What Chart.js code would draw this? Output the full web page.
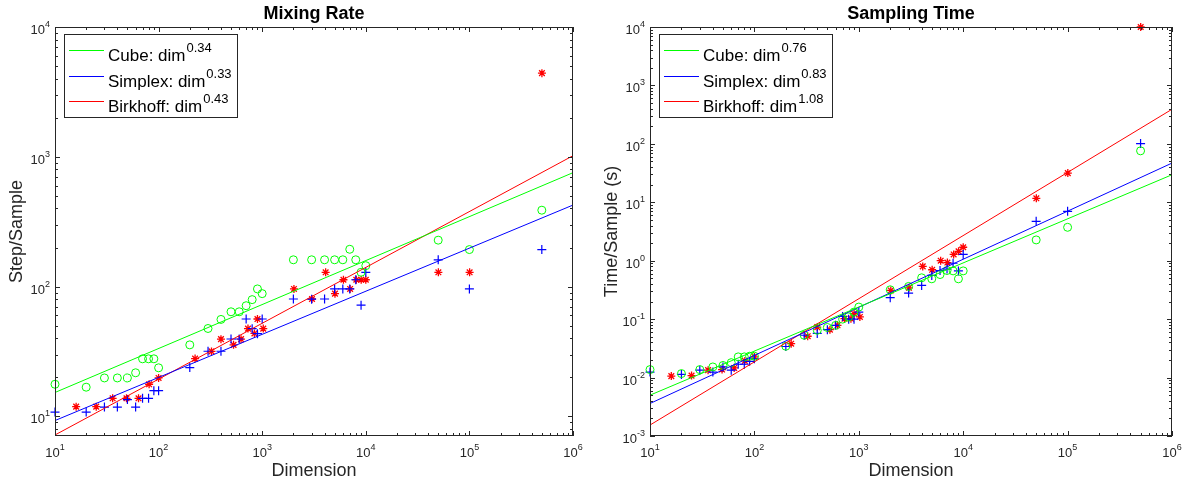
<!DOCTYPE html>
<html>
<head>
<meta charset="utf-8">
<script src="https://cdn.jsdelivr.net/npm/chart.js@4"></script>
<style>
  body { margin: 0; background: #fff; width: 1186px; height: 479px; overflow: hidden; position: relative; }
  .panel { position: absolute; top: 0; width: 593px; height: 479px; }
</style>
</head>
<body>
<div class="panel" style="left:0"><canvas id="js--chart--1"></canvas></div>
<div class="panel" style="left:593px"><canvas id="js--chart--2"></canvas></div>
<script>
// dimensions
const dims = [10, 20, 30, 40, 50, 60, 70, 80, 90, 100, 200, 300, 400, 500, 600, 700, 800, 900, 1000,
  2000, 3000, 4000, 5000, 6000, 7000, 8000, 9000, 10000, 50000, 100000, 500000];
const birkhoffDims = [16, 25, 36, 49, 64, 81, 100, 225, 324, 400, 529, 625, 729, 841, 900, 1024,
  2025, 3025, 4096, 5041, 6084, 7056, 8100, 9025, 10000, 50176, 100489, 501264];

// mixing rate (step/sample)
const mixCube = [17.7, 16.8, 19.8, 19.8, 19.8, 21.7, 27.8, 27.8, 27.8, 23.7, 35.6, 47.6, 55.9, 64, 64, 71.3, 79.4, 96, 88.3,
  161, 161, 161, 161, 161, 194, 161, 129, 145, 228, 193, 388];
const mixSimplex = [10.8, 10.8, 11.8, 11.8, 13.5, 11.8, 13.8, 13.8, 15.8, 15.8, 23.8, 31.8, 31.8, 39.5, 39.5, 56.3, 47.4, 43.4, 56.3,
  80.3, 80, 80.3, 96, 96, 96, 113, 72, 129, 161, 96, 193];
const mixBirkhoff = [11.9, 11.9, 13.8, 13.8, 13.8, 17.7, 19.8, 27.9, 31.7, 39.4, 35.6, 39.4, 47.5, 43.6, 56.3, 47.5,
  96, 80.3, 129, 88.3, 113, 96, 113, 113, 113, 129, 129, 4410];

// sampling time (s)
const timeCube = [0.0137, 0.0117, 0.0137, 0.0152, 0.0161, 0.018, 0.0226, 0.0226, 0.0232, 0.0232, 0.0344, 0.053, 0.0645, 0.072, 0.0783, 0.1, 0.109, 0.132, 0.161,
  0.318, 0.363, 0.51, 0.49, 0.58, 0.68, 0.67, 0.49, 0.67, 2.27, 3.73, 76];
const timeSimplex = [0.0124, 0.0113, 0.0134, 0.0124, 0.0152, 0.0134, 0.0169, 0.0169, 0.019, 0.021, 0.034, 0.053, 0.057, 0.066, 0.0785, 0.111, 0.1, 0.1, 0.132,
  0.233, 0.279, 0.378, 0.56, 0.68, 0.72, 0.905, 0.67, 1.28, 4.72, 7.0, 101];
const timeBirkhoff = [0.0106, 0.0108, 0.0134, 0.0137, 0.0146, 0.0193, 0.0226, 0.038, 0.051, 0.073, 0.066, 0.0785, 0.102, 0.102, 0.124, 0.109,
  0.31, 0.344, 0.80, 0.70, 1.0, 0.93, 1.28, 1.45, 1.70, 11.7, 31.6, 10000];

// fitted power laws, end points at dim 10 and 1e6
const fitX = [10, 1000000];
const mixFitCube = [15.3, 755];
const mixFitSimplex = [9.3, 425];
const mixFitBirkhoff = [7.2, 1020];
const timeFitCube = [0.005, 29.6];
const timeFitSimplex = [0.0036, 46.9];
const timeFitBirkhoff = [0.00154, 391];

// legend
const seriesNames = ['Cube: dim', 'Simplex: dim', 'Birkhoff: dim'];
const mixExponents = ['0.34', '0.33', '0.43'];
const timeExponents = ['0.76', '0.83', '1.08'];
const colors = ['#00ff00', '#0000ff', '#ff0000'];

// tick labels (powers of ten)
const xTickExps = [1, 2, 3, 4, 5, 6];
const mixTickExps = [1, 2, 3, 4];
const timeTickExps = [-3, -2, -1, 0, 1, 2, 3, 4];

const FONT = '"Liberation Sans", Arial, Helvetica, sans-serif';
const INK = '#262626';

function pts(xs, ys) {
  return ys.map((v, i) => ({ x: xs[i], y: v }));
}

function drawPow(ctx, x, base, e, align) {
  const es = String(e);
  ctx.font = '13px ' + FONT;
  const w1 = ctx.measureText('10').width;
  ctx.font = '9px ' + FONT;
  const w2 = ctx.measureText(es).width;
  const x0 = align === 'center' ? x - (w1 + w2) / 2 : x - w1 - w2;
  ctx.textAlign = 'left';
  ctx.textBaseline = 'alphabetic';
  ctx.font = '13px ' + FONT;
  ctx.fillText('10', x0, base);
  ctx.font = '9px ' + FONT;
  ctx.fillText(es, x0 + w1, base - 7);
}

function logTicks(min, max) {
  const out = [];
  for (let e = Math.floor(Math.log10(min)); e <= Math.ceil(Math.log10(max)); e++) {
    for (let m = 1; m < 10; m++) {
      const v = m * Math.pow(10, e);
      if (v >= min * 0.999 && v <= max * 1.001) out.push({ v: v, major: m === 1 });
    }
  }
  return out;
}

const axesPlugin = {
  id: 'matlabAxes',
  afterDraw(chart) {
    const o = chart.options.plugins.matlabAxes;
    const { ctx, chartArea: a } = chart;
    const sx = chart.scales.x, sy = chart.scales.y;
    ctx.save();

    // box + ticks
    ctx.strokeStyle = INK;
    ctx.lineWidth = 1;
    ctx.strokeRect(a.left + 0.5, a.top + 0.5, a.right - a.left - 1, a.bottom - a.top - 1);
    ctx.beginPath();
    logTicks(sx.min, sx.max).forEach(t => {
      const px = Math.round(sx.getPixelForValue(t.v)) + 0.5;
      const len = t.major ? 5 : 3;
      ctx.moveTo(px, a.bottom); ctx.lineTo(px, a.bottom - len);
      ctx.moveTo(px, a.top); ctx.lineTo(px, a.top + len);
    });
    logTicks(sy.min, sy.max).forEach(t => {
      const py = Math.round(sy.getPixelForValue(t.v)) + 0.5;
      const len = t.major ? 5 : 3;
      ctx.moveTo(a.left, py); ctx.lineTo(a.left + len, py);
      ctx.moveTo(a.right, py); ctx.lineTo(a.right - len, py);
    });
    ctx.stroke();

    // tick labels
    ctx.fillStyle = INK;
    xTickExps.forEach(e => drawPow(ctx, sx.getPixelForValue(Math.pow(10, e)), a.bottom + 21, e, 'center'));
    o.yExps.forEach(e => drawPow(ctx, a.left - 5, sy.getPixelForValue(Math.pow(10, e)) + 7, e, 'right'));

    // title and axis labels
    const cx = (a.left + a.right) / 2;
    ctx.textAlign = 'center';
    ctx.textBaseline = 'alphabetic';
    ctx.fillStyle = '#000';
    ctx.font = 'bold 18px ' + FONT;
    ctx.fillText(o.title, cx, 18.5);
    ctx.fillStyle = INK;
    ctx.font = '18px ' + FONT;
    ctx.fillText(o.xLabel, cx, a.bottom + 40);
    ctx.save();
    ctx.translate(a.left - 38, (a.top + a.bottom) / 2);
    ctx.rotate(-Math.PI / 2);
    ctx.textBaseline = 'middle';
    ctx.fillText(o.yLabel, 0, 0);
    ctx.restore();

    // legend
    const lx = a.left + 9, ly = a.top + 7, lw = 173, lh = 83;
    ctx.fillStyle = '#fff';
    ctx.fillRect(lx, ly, lw, lh);
    ctx.strokeStyle = INK;
    ctx.strokeRect(lx + 0.5, ly + 0.5, lw, lh);
    seriesNames.forEach((name, i) => {
      const cy = Math.round(ly + 16 + i * 25.5) + 0.5;
      ctx.strokeStyle = colors[i];
      ctx.lineWidth = 1;
      ctx.beginPath();
      ctx.moveTo(lx + 5, cy); ctx.lineTo(lx + 40, cy);
      ctx.stroke();
      ctx.fillStyle = '#000';
      ctx.textAlign = 'left';
      ctx.font = '17px ' + FONT;
      ctx.fillText(name, lx + 44, cy + 10);
      const w = ctx.measureText(name).width;
      ctx.font = '13px ' + FONT;
      ctx.fillText(o.exps[i], lx + 45 + w, cy + 1);
    });
    ctx.restore();
  }
};

function makeChart(id, pad, yMin, yMax, cube, simplex, birkhoff, fits, opts) {
  const marker = (label, d, color, style, r, bw) => ({
    label: label, data: d, showLine: false, clip: false,
    pointStyle: style, pointRadius: r, pointHoverRadius: r,
    borderColor: color, backgroundColor: 'rgba(0,0,0,0)', pointBorderWidth: bw
  });
  const fit = (label, d, color) => ({
    label: label, data: d, showLine: true, pointRadius: 0,
    borderColor: color, borderWidth: 1
  });
  return new Chart(document.getElementById(id), {
    type: 'scatter',
    data: {
      datasets: [
        fit('Cube fit', pts(fitX, fits[0]), colors[0]),
        fit('Simplex fit', pts(fitX, fits[1]), colors[1]),
        fit('Birkhoff fit', pts(fitX, fits[2]), colors[2]),
        marker('Cube', pts(dims, cube), colors[0], 'circle', 4, 1),
        marker('Simplex', pts(dims, simplex), colors[1], 'cross', 4.5, 1.2),
        marker('Birkhoff', pts(birkhoffDims, birkhoff), colors[2], 'star', 4, 1.3)
      ]
    },
    options: {
      responsive: true,
      maintainAspectRatio: false,
      animation: false,
      layout: { padding: pad },
      scales: {
        x: { type: 'logarithmic', min: 10, max: 1000000, display: false },
        y: { type: 'logarithmic', min: yMin, max: yMax, display: false }
      },
      plugins: {
        legend: { display: false },
        tooltip: { enabled: false },
        matlabAxes: opts
      }
    },
    plugins: [axesPlugin]
  });
}

makeChart('js--chart--1', { left: 55, right: 20, top: 27, bottom: 43 }, 7.07, 10000,
  mixCube, mixSimplex, mixBirkhoff, [mixFitCube, mixFitSimplex, mixFitBirkhoff],
  { title: 'Mixing Rate', xLabel: 'Dimension', yLabel: 'Step/Sample', yExps: mixTickExps, exps: mixExponents });

makeChart('js--chart--2', { left: 57, right: 14, top: 27, bottom: 43 }, 0.001, 10000,
  timeCube, timeSimplex, timeBirkhoff, [timeFitCube, timeFitSimplex, timeFitBirkhoff],
  { title: 'Sampling Time', xLabel: 'Dimension', yLabel: 'Time/Sample (s)', yExps: timeTickExps, exps: timeExponents });
</script>
</body>
</html>
